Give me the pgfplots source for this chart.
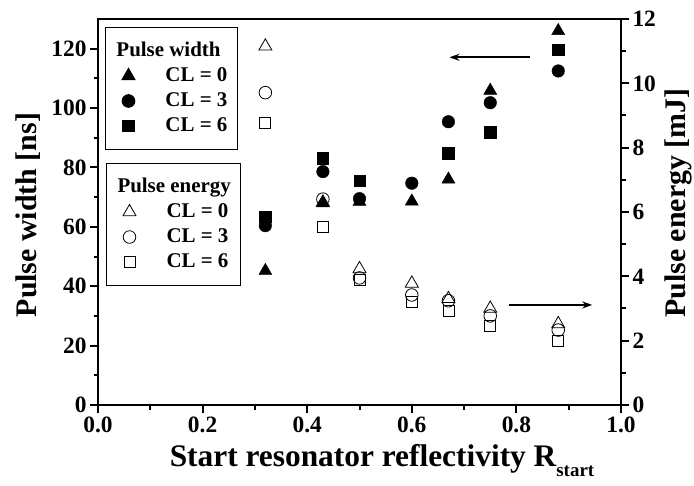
\documentclass[border=0pt]{standalone}
\usepackage{pgfplots}
\pgfplotsset{compat=1.18}
\usepackage{fontspec}
\setmainfont{Liberation Serif}
\usetikzlibrary{arrows.meta}
\begin{document}
\begin{tikzpicture}
\pgfplotsset{
  common/.style={
    scale only axis, width=523bp, height=386bp,
    xmin=0, xmax=1,
    axis line style={line width=2bp},
    tick align=outside,
    major tick length=8bp, minor tick length=4.5bp,
    every tick/.style={line width=2bp, black},
    tick label style={font=\fontsize{23.5}{23.5}\selectfont\bfseries},
    label style={font=\fontsize{30}{30}\selectfont\bfseries},
    /pgf/number format/assume math mode=true,
    legend cell align=left,
    legend image code/.code={\path[draw=none, fill=none] (-13bp,0) -- (37bp,0); \draw[##1, draw=none] plot coordinates {(0bp,0bp)};},
  },
  mylegend/.style={at={#1}, anchor=north west, draw=black, line width=1bp,
    font=\fontsize{21}{21}\selectfont\bfseries, row sep=0pt, column sep=0pt,
    inner xsep=10bp, inner ysep=11bp,
    nodes={inner sep=0pt, text height=18bp, text depth=7bp}},
}
\begin{axis}[common, name=ax1,
  ymin=0, ymax=130,
  xtick={0,0.2,0.4,0.6,0.8,1.0}, minor x tick num=1,
  ytick={0,20,...,120}, minor y tick num=1,
  xtick pos=bottom, ytick pos=left,
  xticklabel style={/pgf/number format/.cd, fixed, fixed zerofill, precision=1},
  xlabel={Start resonator reflectivity R\raisebox{-10bp}{\fontsize{19}{19}\selectfont start}},
  xlabel style={at={(axis description cs:0.543,-0.1606)}, anchor=base, font=\fontsize{31.5}{31.5}\selectfont\bfseries},
  ylabel={Pulse width [ns]},
  ylabel style={at={(axis description cs:-0.134,0.492)}, anchor=center},
  legend style={mylegend={(0.01338,0.9793)}},
]
\addlegendimage{empty legend}\addlegendentry{\hspace*{-49bp}Pulse width}
\addplot[only marks, mark=triangle*, mark size=7.5bp, black] coordinates {
(0.32,45.2) (0.43,68) (0.5,68.5) (0.6,68.6) (0.67,76.0) (0.75,105.9) (0.88,126)};
\addlegendentry{CL = 0}
\addplot[only marks, mark=*, mark size=6.3bp, black] coordinates {
(0.32,60.4) (0.43,78.6) (0.5,69.5) (0.6,74.7) (0.67,95.4) (0.75,101.8) (0.88,112.5)};
\addlegendentry{CL = 3}
\addplot[only marks, mark=square*, mark size=5.8bp, black] coordinates {
(0.32,63.4) (0.43,83.1) (0.5,75.5) (0.67,84.8) (0.75,91.8) (0.88,119.6)};
\addlegendentry{CL = 6}
\draw[line width=2bp, -{Stealth[length=10bp,width=7bp]}] (axis cs:0.826,117.1) -- (axis cs:0.672,117.1);
\end{axis}
\begin{axis}[common,
  ymin=0, ymax=12,
  axis x line=none, axis y line*=right,
  ytick={0,2,...,12}, minor y tick num=1,
  ylabel={Pulse energy [mJ]},
  ylabel style={at={(axis description cs:1.124,0.523)}, anchor=base, rotate=0},
  legend style={mylegend={(0.0153,0.6269)}},
]
\addlegendimage{empty legend}\addlegendentry{\hspace*{-49bp}Pulse energy}
\addplot[only marks, mark=triangle, mark size=7.5bp, black, mark options={fill=white, line width=0.8bp}] coordinates {
(0.32,11.15) (0.43,6.3) (0.5,4.23) (0.6,3.78) (0.67,3.3) (0.75,3.0) (0.88,2.52)};
\addlegendentry{CL = 0}
\addplot[only marks, mark=o, mark size=6.3bp, black, mark options={fill=white, line width=0.8bp}] coordinates {
(0.32,9.71) (0.43,6.4) (0.5,3.95) (0.6,3.42) (0.67,3.24) (0.75,2.77) (0.88,2.33)};
\addlegendentry{CL = 3}
\addplot[only marks, mark=square, mark size=5.5bp, black, mark options={fill=white, line width=0.8bp}] coordinates {
(0.32,8.78) (0.43,5.54) (0.5,3.89) (0.6,3.21) (0.67,2.93) (0.75,2.46) (0.88,1.99)};
\addlegendentry{CL = 6}
\draw[line width=2bp, -{Stealth[length=10bp,width=7bp]}] (axis cs:0.786,3.11) -- (axis cs:0.945,3.11);
\end{axis}
\pgfresetboundingbox
\path ([shift={(-98bp,-81bp)}]ax1.south west) rectangle ([shift={(73bp,19bp)}]ax1.north east);
\end{tikzpicture}
\end{document}
